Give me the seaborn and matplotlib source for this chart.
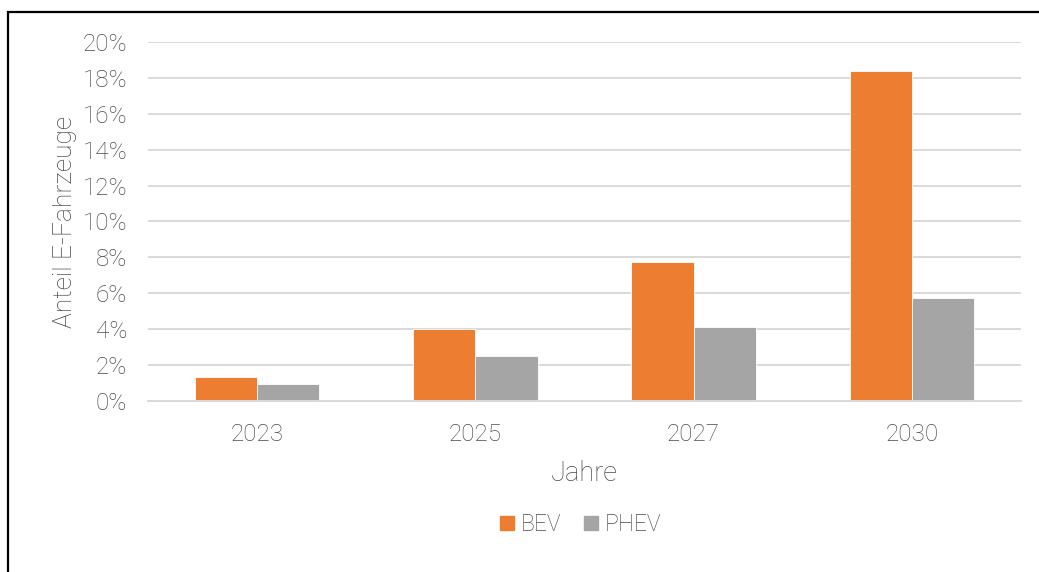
import seaborn as sns
import matplotlib.pyplot as plt
from matplotlib.patches import Rectangle
from matplotlib.ticker import FuncFormatter
import pandas as pd

years = ["2023", "2025", "2027", "2030"]
bev = [1.32, 4.0, 7.76, 18.37]
phev = [0.95, 2.5, 4.1, 5.76]
series = ["BEV", "PHEV"]
colors = ["#ED7D31", "#A5A5A5"]

df = pd.DataFrame({
    "Jahr": years * 2,
    "Anteil": bev + phev,
    "Typ": ["BEV"] * len(years) + ["PHEV"] * len(years),
})

sns.set_theme(style="white")
plt.rcParams["font.family"] = ["Roboto", "DejaVu Sans"]
txt = "#4a4a4a"

fig = plt.figure(figsize=(10.39, 5.72), dpi=100)
ax = fig.add_axes([0.1424, 0.299, 0.8403, 0.6276])

sns.barplot(data=df, x="Jahr", y="Anteil", hue="Typ", hue_order=series,
            palette=colors, width=0.57, saturation=1, ax=ax,
            edgecolor="white", linewidth=0.6, legend=True)

ax.set_ylim(0, 20)
ax.set_yticks(range(0, 21, 2))
ax.yaxis.set_major_formatter(FuncFormatter(lambda v, p: f"{int(v)}%"))
ax.grid(axis="y", color="#d9d9d9", linewidth=1.4)
ax.set_axisbelow(True)
for s in ["top", "right", "left"]:
    ax.spines[s].set_visible(False)
ax.spines["bottom"].set_color("#d9d9d9")
ax.spines["bottom"].set_linewidth(1.4)
ax.tick_params(axis="both", length=0, labelsize=17.5, labelcolor=txt)
ax.tick_params(axis="y", pad=15)
ax.tick_params(axis="x", pad=16)
for t in ax.get_xticklabels() + ax.get_yticklabels():
    t.set_fontweight("light")

ax.set_xlabel("Jahre", fontsize=19.5, color=txt, fontweight="light", labelpad=10)
ax.set_ylabel("Anteil E-Fahrzeuge", fontsize=19, color=txt, fontweight="light", labelpad=4)

ax.legend_.remove()
handles = [Rectangle((0, 0), 1, 1, color=c) for c in colors]
leg = fig.legend(handles, series, loc="center", bbox_to_anchor=(0.559, 0.083),
                 ncol=2, frameon=False, fontsize=16.5, handlelength=0.6,
                 handleheight=0.6, handletextpad=0.3, columnspacing=1.0)
for t in leg.get_texts():
    t.set_color(txt)
    t.set_fontweight("light")

fig.patches.append(Rectangle((8 / 1039, -0.1), 1.2, 1 - 12 / 572 + 0.1,
                             transform=fig.transFigure, fill=False,
                             edgecolor="black", linewidth=1.6))

fig.savefig("out.png", dpi=100)
